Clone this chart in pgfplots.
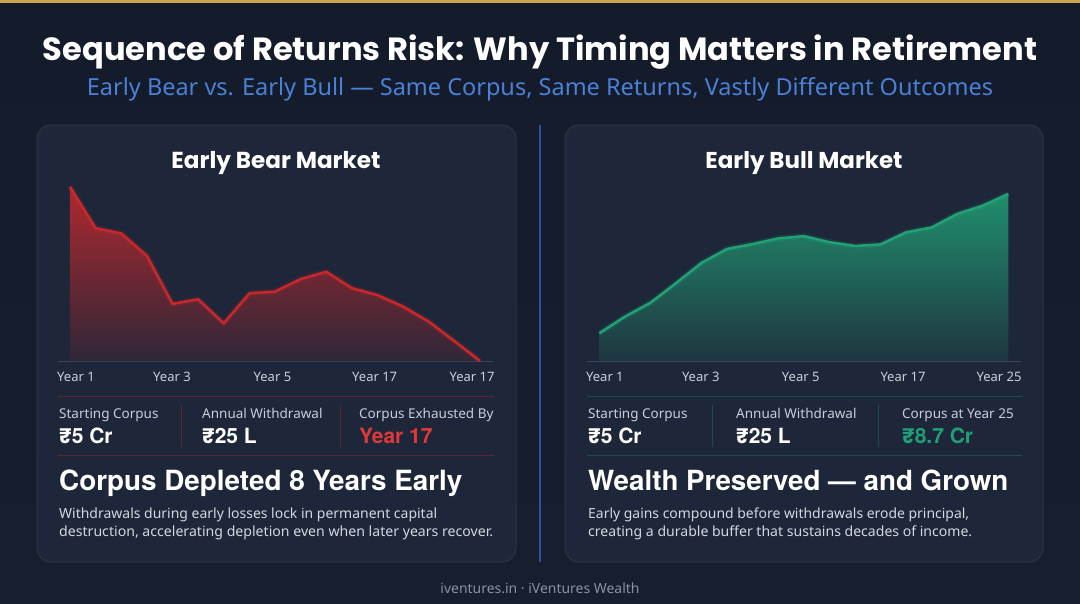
\documentclass[border=0pt]{standalone}
\usepackage{pgfplots}
\pgfplotsset{compat=1.18}
\usepackage{pgfplotstable}
\usepackage{fontspec}
\setmainfont{Noto Sans}
\newfontfamily\headfont{Poppins}
\newfontfamily\boldsans{TeX Gyre Heros}
\newfontfamily\rupfont{Poppins}
\newcommand\rup{{\rupfont\bfseries ₹}}
\definecolor{bgtop}{HTML}{141B2B}
\definecolor{bgbot}{HTML}{171E2D}
\definecolor{card}{HTML}{1E2739}
\definecolor{cardborder}{HTML}{2C3547}
\definecolor{gold}{HTML}{C9A54E}
\definecolor{subblue}{HTML}{4A80D6}
\definecolor{divblue}{HTML}{2C4FA8}
\definecolor{bearred}{HTML}{C8282C}
\definecolor{bullgreen}{HTML}{21A176}
\definecolor{labgray}{HTML}{C9CED8}
\definecolor{axisgray}{HTML}{3A4559}
\definecolor{redsep}{HTML}{5B2630}
\definecolor{tealsep}{HTML}{1E4A50}
\definecolor{valred}{HTML}{E0383A}
\definecolor{valgreen}{HTML}{1F9E78}
\definecolor{foot}{HTML}{8A91A0}
\definecolor{desc}{HTML}{D3D7DE}

\pgfplotstableread{
year value
1 5.00
2 3.81
3 3.66
4 3.02
5 1.64
6 1.77
7 1.08
8 1.94
9 1.99
10 2.35
11 2.56
12 2.09
13 1.89
14 1.56
15 1.13
16 0.57
17 0.00
}\beardata

\pgfplotstableread{
year value
1 5.00
2 5.44
3 5.81
4 6.33
5 6.87
6 7.24
7 7.37
8 7.52
9 7.58
10 7.42
11 7.32
12 7.36
13 7.68
14 7.81
15 8.17
16 8.39
17 8.70
}\bulldata

\pgfplotsset{panel/.style={
  scale only axis, height=181pt,
  axis x line*=bottom, hide y axis,
  x axis line style={-, draw=axisgray, line width=1pt},
  major tick length=0pt, ytick=\empty,
  xticklabel style={font=\fontsize{13}{15}\selectfont, text=labgray, yshift=-8pt},
  clip=true,
}}

\begin{document}
\begin{tikzpicture}
\begin{scope}[x=1pt,y=-1pt]
\useasboundingbox (0,0) rectangle (1080,603);
\shade[top color=bgtop, bottom color=bgbot] (0,0) rectangle (1080,603);
\fill[gold] (0,0) rectangle (1080,3);
% title
\node[anchor=base, text=white, inner sep=0pt] at (540,60)
  {\resizebox{994pt}{!}{\headfont\bfseries Sequence of Returns Risk: Why Timing Matters in Retirement}};
\node[anchor=base, text=subblue, inner sep=0pt] at (540,95)
  {\resizebox{906pt}{!}{Early Bear vs. Early Bull — Same Corpus, Same Returns, Vastly Different Outcomes}};
% cards
\filldraw[fill=card, draw=cardborder, line width=1pt, rounded corners=14pt] (37,125) rectangle (516,562);
\filldraw[fill=card, draw=cardborder, line width=1pt, rounded corners=14pt] (565,125) rectangle (1043,562);
\draw[divblue, line width=2pt] (540,125) -- (540,562);
% card titles
\node[anchor=base, text=white, inner sep=0pt] at (276,168)
  {\resizebox{209pt}{!}{\headfont\bfseries Early Bear Market}};
\node[anchor=base, text=white, inner sep=0pt] at (804,168)
  {\resizebox{197pt}{!}{\headfont\bfseries Early Bull Market}};
% ---- left stats
\draw[redsep, line width=1pt] (58,396) -- (494,396);
\draw[redsep, line width=1pt] (58,455) -- (494,455);
\draw[redsep, line width=1pt] (181,405) -- (181,447);
\draw[redsep, line width=1pt] (340,405) -- (340,447);
\begin{scope}[every node/.style={anchor=base west, inner sep=0pt}]
\node[text=labgray, font=\fontsize{13.5}{16}\selectfont] at (59,418) {Starting Corpus};
\node[text=labgray, font=\fontsize{13.5}{16}\selectfont] at (202,418) {Annual Withdrawal};
\node[text=labgray, font=\fontsize{13.5}{16}\selectfont] at (359,418) {Corpus Exhausted By};
\node[text=white, font=\fontsize{21}{24}\selectfont\boldsans\bfseries] at (59,443) {\rup5 Cr};
\node[text=white, font=\fontsize{21}{24}\selectfont\boldsans\bfseries] at (202,443) {\rup25 L};
\node[text=valred, font=\fontsize{21}{24}\selectfont\boldsans\bfseries] at (359,443) {Year 17};
\node[text=white] at (59,490) {\resizebox{403pt}{!}{\boldsans\bfseries Corpus Depleted 8 Years Early}};
\node[text=desc] at (59,518) {\resizebox{378pt}{!}{Withdrawals during early losses lock in permanent capital}};
\node[text=desc] at (59,536.5) {\resizebox{434pt}{!}{destruction, accelerating depletion even when later years recover.}};
% ---- right stats
\draw[tealsep, line width=1pt] (587,396) -- (1022,396);
\draw[tealsep, line width=1pt] (587,455) -- (1022,455);
\draw[tealsep, line width=1pt] (712,405) -- (712,447);
\draw[tealsep, line width=1pt] (878,405) -- (878,447);
\node[text=labgray, font=\fontsize{13.5}{16}\selectfont] at (588,418) {Starting Corpus};
\node[text=labgray, font=\fontsize{13.5}{16}\selectfont] at (736,418) {Annual Withdrawal};
\node[text=labgray, font=\fontsize{13.5}{16}\selectfont] at (902,418) {Corpus at Year 25};
\node[text=white, font=\fontsize{21}{24}\selectfont\boldsans\bfseries] at (588,443) {\rup5 Cr};
\node[text=white, font=\fontsize{21}{24}\selectfont\boldsans\bfseries] at (736,443) {\rup25 L};
\node[text=valgreen, font=\fontsize{21}{24}\selectfont\boldsans\bfseries] at (902,443) {\rup8.7 Cr};
\node[text=white] at (588,490) {\resizebox{420pt}{!}{\boldsans\bfseries Wealth Preserved — and Grown}};
\node[text=desc] at (588,518) {\resizebox{381pt}{!}{Early gains compound before withdrawals erode principal,}};
\node[text=desc] at (588,536.5) {\resizebox{384pt}{!}{creating a durable buffer that sustains decades of income.}};
\end{scope}
\node[anchor=base, text=foot, inner sep=0pt] at (540,593) {\resizebox{199pt}{!}{iventures.in · iVentures Wealth}};
\end{scope}

% ---- left chart
\begin{axis}[panel, at={(58pt,-361pt)}, anchor=south west, width=435pt,
  xmin=0.532, xmax=17.507, ymin=0, ymax=5.193,
  xtick={1.234,4.98,8.90,12.89,16.69},
  xticklabels={Year 1,Year 3,Year 5,Year 17,Year 17}]
\addplot[draw=none, top color=bearred!85!card, bottom color=card!90!bearred] table[x=year,y=value] {\beardata} \closedcycle;
\addplot[bearred, line width=6pt, opacity=0.15, line join=round] table[x=year,y=value] {\beardata};
\addplot[bearred, line width=2.5pt, line join=round] table[x=year,y=value] {\beardata};
\end{axis}

% ---- right chart
\begin{axis}[panel, at={(586.7pt,-361pt)}, anchor=south west, width=434.3pt,
  xmin=0.507, xmax=17.497, ymin=4.264, ymax=9.071,
  xtick={1.22,4.97,8.88,12.88,16.64},
  xticklabels={Year 1,Year 3,Year 5,Year 17,Year 25}]
\addplot[draw=none, top color=bullgreen!85!card, bottom color=card!88!bullgreen] coordinates {
(1,4.264) (1,5.00) (2,5.44) (3,5.81) (4,6.33) (5,6.87) (6,7.24) (7,7.37) (8,7.52) (9,7.58)
(10,7.42) (11,7.32) (12,7.36) (13,7.68) (14,7.81) (15,8.17) (16,8.39) (17,8.70) (17,4.264)} -- cycle;
\addplot[bullgreen, line width=6pt, opacity=0.15, line join=round] table[x=year,y=value] {\bulldata};
\addplot[bullgreen, line width=2.5pt, line join=round] table[x=year,y=value] {\bulldata};
\end{axis}
\end{tikzpicture}
\end{document}
